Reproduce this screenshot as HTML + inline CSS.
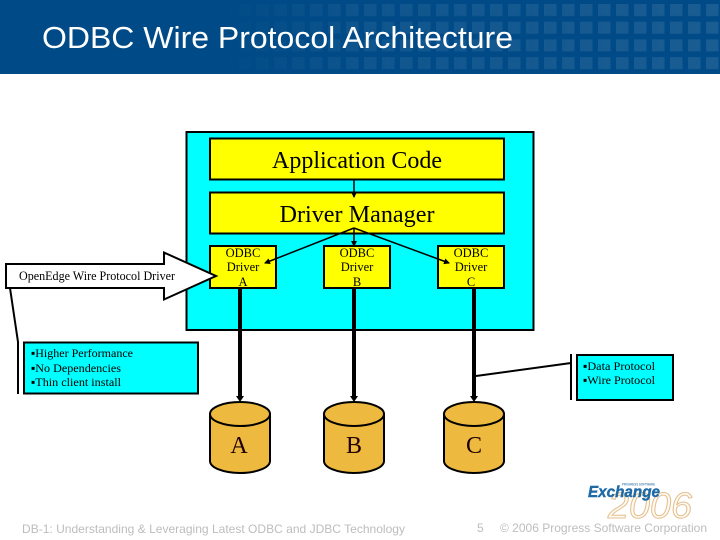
<!DOCTYPE html>
<html><head><meta charset="utf-8"><style>
html,body{margin:0;padding:0;background:#fff}
svg{display:block}
.s{font-family:"Liberation Serif",serif;fill:#000}
.a{font-family:"Liberation Sans",sans-serif}
</style></head><body>
<svg width="720" height="540" viewBox="0 0 720 540" xmlns="http://www.w3.org/2000/svg">
<defs>
<pattern id="p" x="4" y="4" width="18" height="17.700" patternUnits="userSpaceOnUse"><rect width="12.500" height="12" fill="#1d5f94"/></pattern>
<linearGradient id="g" x1="0" x2="1" y1="0" y2="0"><stop offset="0" stop-color="#fff" stop-opacity="0"/><stop offset=".3" stop-color="#fff" stop-opacity=".55"/><stop offset="1" stop-color="#fff" stop-opacity=".9"/></linearGradient>
<mask id="m"><rect x="225" width="495" height="74" fill="url(#g)"/></mask>
<marker id="ah" markerWidth="7" markerHeight="7" refX="5" refY="3" orient="auto" markerUnits="userSpaceOnUse"><path d="M0 0L6 3L0 6z" fill="#000"/></marker>
</defs>
<rect width="720" height="74" fill="#004b87"/>
<rect x="225" width="495" height="74" fill="url(#p)" mask="url(#m)"/>
<text class="a" x="42" y="48" font-size="31" fill="#fff" textLength="471" lengthAdjust="spacingAndGlyphs">ODBC Wire Protocol Architecture</text>

<rect x="186.500" y="132" width="347" height="198" fill="#0ff" stroke="#000" stroke-width="2"/>
<g fill="#ff0" stroke="#000" stroke-width="2">
<rect x="210" y="138.500" width="294" height="41"/>
<rect x="210" y="192.500" width="294" height="41"/>
<rect x="210" y="246" width="66" height="42"/>
<rect x="324" y="246" width="66" height="42"/>
<rect x="438" y="246" width="66" height="42"/>
</g>
<g class="s" text-anchor="middle">
<text x="357" y="168" font-size="24" textLength="170" lengthAdjust="spacingAndGlyphs">Application Code</text>
<text x="357" y="222" font-size="24" textLength="155" lengthAdjust="spacingAndGlyphs">Driver Manager</text>
<g font-size="12.500">
<text x="243" y="257">ODBC</text><text x="243" y="271">Driver</text><text x="243" y="286">A</text>
<text x="357" y="257">ODBC</text><text x="357" y="271">Driver</text><text x="357" y="286">B</text>
<text x="471" y="257">ODBC</text><text x="471" y="271">Driver</text><text x="471" y="286">C</text>
</g>
</g>
<g stroke="#000" stroke-width="1.500" fill="none">
<line x1="354" y1="180" x2="354" y2="197" marker-end="url(#ah)"/>
<line x1="354" y1="228" x2="354" y2="246" marker-end="url(#ah)"/>
<line x1="354" y1="228" x2="265" y2="263" marker-end="url(#ah)"/>
<line x1="354" y1="228" x2="449" y2="263" marker-end="url(#ah)"/>
</g>
<g stroke="#000" stroke-width="4">
<line x1="240" y1="288" x2="240" y2="399"/>
<line x1="354" y1="288" x2="354" y2="399"/>
<line x1="474" y1="288" x2="474" y2="399"/>
</g>
<g fill="#000">
<path d="M236 396h8l-4 6z"/><path d="M350 396h8l-4 6z"/><path d="M470 396h8l-4 6z"/>
</g>

<path d="M6 264H164V252.500L216 276L164 299.500V288H6z" fill="#fff" stroke="#000" stroke-width="2"/>
<text class="s" x="19" y="280" font-size="12.500" textLength="156" lengthAdjust="spacingAndGlyphs">OpenEdge Wire Protocol Driver</text>

<path d="M10 288L18 342V394" fill="none" stroke="#000" stroke-width="2"/>
<rect x="24" y="342.500" width="174" height="51" fill="#0ff" stroke="#000" stroke-width="2"/>
<g class="s" font-size="12">
<text x="31" y="357" textLength="102" lengthAdjust="spacingAndGlyphs">▪Higher Performance</text>
<text x="31" y="372" textLength="90" lengthAdjust="spacingAndGlyphs">▪No Dependencies</text>
<text x="31" y="386" textLength="90" lengthAdjust="spacingAndGlyphs">▪Thin client install</text>
</g>

<path d="M476 376L571 363" fill="none" stroke="#000" stroke-width="2"/>
<line x1="571" y1="354" x2="571" y2="400" stroke="#000" stroke-width="2"/>
<rect x="577" y="355" width="96" height="45" fill="#0ff" stroke="#000" stroke-width="2"/>
<g class="s" font-size="12">
<text x="583" y="370" textLength="72" lengthAdjust="spacingAndGlyphs">▪Data Protocol</text>
<text x="583" y="384" textLength="72" lengthAdjust="spacingAndGlyphs">▪Wire Protocol</text>
</g>

<g fill="#edb93f" stroke="#000" stroke-width="2">
<path d="M210 414V461A30 12 0 0 0 270 461V414z"/><ellipse cx="240" cy="414" rx="30" ry="12"/>
<path d="M324 414V461A30 12 0 0 0 384 461V414z"/><ellipse cx="354" cy="414" rx="30" ry="12"/>
<path d="M444 414V461A30 12 0 0 0 504 461V414z"/><ellipse cx="474" cy="414" rx="30" ry="12"/>
</g>
<g class="s" font-size="24" text-anchor="middle" style="fill:#200">
<text x="239" y="453">A</text><text x="354" y="453">B</text><text x="474" y="453">C</text>
</g>

<text x="608" y="518" font-family="Liberation Sans,sans-serif" font-style="italic" font-size="36" fill="#fffaf3" stroke="#e3c08f" stroke-width="1" textLength="84" lengthAdjust="spacingAndGlyphs">2006</text>
<text x="622" y="485.500" class="a" font-weight="bold" font-size="3.500" fill="#5c8fb8" textLength="33" lengthAdjust="spacingAndGlyphs">PROGRESS SOFTWARE</text>
<text x="588" y="497" class="a" font-weight="bold" font-style="italic" font-size="15.500" fill="#1f6aa5" stroke="#1f6aa5" stroke-width=".4" textLength="72" lengthAdjust="spacingAndGlyphs">Exchange</text>

<g class="a" font-size="12" fill="#bdbdbd">
<text x="22" y="533" textLength="383" lengthAdjust="spacingAndGlyphs">DB-1: Understanding &amp; Leveraging Latest ODBC and JDBC Technology</text>
<text x="477" y="532">5</text>
<text x="500" y="532" textLength="207" lengthAdjust="spacingAndGlyphs">© 2006 Progress Software Corporation</text>
</g>
</svg>
</body></html>
